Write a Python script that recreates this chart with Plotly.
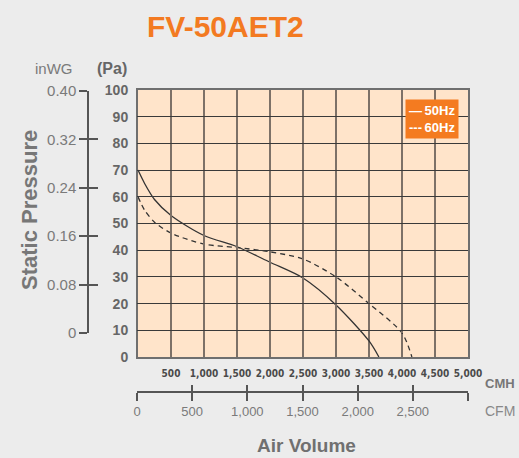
import plotly.graph_objects as go

W, H = 519, 458

# ---------------- data ----------------
series_names = ["50Hz", "60Hz"]
cmh_50 = [0, 100, 250, 500, 1000, 1500, 2000, 2500, 3000, 3500, 3650]
pa_50 = [70, 65, 59, 53, 45.5, 41.3, 35.5, 29.6, 19.5, 6, 0]
cmh_60 = [0, 100, 250, 500, 1000, 1500, 2000, 2500, 3000, 3500, 4000, 4150]
pa_60 = [60, 55, 50.5, 46.4, 42.3, 41, 39.4, 36.7, 30, 20, 9, 0]

cmh_ticks = [500, 1000, 1500, 2000, 2500, 3000, 3500, 4000, 4500, 5000]
cmh_labels = ["500", "1,000", "1,500", "2,000", "2,500", "3,000", "3,500", "4,000", "4,500", "5,000"]
pa_ticks = [0, 10, 20, 30, 40, 50, 60, 70, 80, 90, 100]
pa_labels = ["0", "10", "20", "30", "40", "50", "60", "70", "80", "90", "100"]
inwg_ticks = [0, 0.08, 0.16, 0.24, 0.32, 0.40]
inwg_labels = ["0", "0.08", "0.16", "0.24", "0.32", "0.40"]
cfm_ticks = [0, 500, 1000, 1500, 2000, 2500, 3000]
cfm_labels = ["0", "500", "1,000", "1,500", "2,000", "2,500", ""]

title_text = "FV-50AET2"

# ---------------- styles ----------------
ORANGE = "#F37A21"
CURVE = "#333333"
FONT = "Liberation Sans"
NARROW = "Liberation Sans Narrow, DejaVu Sans Condensed, Roboto Condensed, Roboto, Liberation Sans"


def px(x):
    return x / W


def py(y):
    return 1 - y / H


fig = go.Figure()

fig.add_trace(go.Scatter(x=cmh_50, y=pa_50, mode="lines", name=series_names[0],
                         line=dict(color=CURVE, width=1.3, shape="spline", smoothing=0.8),
                         showlegend=False, hoverinfo="skip"))
fig.add_trace(go.Scatter(x=cmh_60, y=pa_60, mode="lines", name=series_names[1],
                         line=dict(color=CURVE, width=1.3, dash="5px,4px", shape="spline", smoothing=0.8),
                         showlegend=False, hoverinfo="skip"))

# empty traces so the auxiliary axes get drawn
for xa, ya in [("x", "y2"), ("x", "y3"), ("x2", "y"), ("x3", "y")]:
    fig.add_trace(go.Scatter(x=[], y=[], xaxis=xa, yaxis=ya, showlegend=False, hoverinfo="skip"))

plot_x = [px(138), px(468)]
plot_y = [py(357), py(90)]

fig.update_layout(
    width=W, height=H,
    margin=dict(l=0, r=0, t=0, b=0, pad=0, autoexpand=False),
    paper_bgcolor="#ECECEC",
    plot_bgcolor="rgba(0,0,0,0)",
    showlegend=False,
    xaxis=dict(domain=plot_x, range=[0, 5000], tickvals=cmh_ticks, ticktext=cmh_labels,
               showgrid=True, gridcolor="#7d7168", gridwidth=1.6, zeroline=False,
               showline=True, linecolor="#6f6f6f", linewidth=2, mirror=True,
               ticks="", tickangle=0,
               tickfont=dict(family=NARROW, size=10, color="#4a4a4a", weight="bold"),
               ticklabelstandoff=6, fixedrange=True, automargin=False),
    yaxis=dict(domain=plot_y, range=[0, 100], tickvals=pa_ticks, ticktext=pa_labels,
               showgrid=True, gridcolor="#3a3a3a", gridwidth=1.4, zeroline=False,
               showline=True, linecolor="#6f6f6f", linewidth=2, mirror=True,
               ticks="", tickfont=dict(family=FONT, size=14, color="#666666", weight="bold"),
               ticklabelstandoff=5, fixedrange=True, automargin=False),
    yaxis2=dict(anchor="free", position=px(88), side="left", domain=[py(333), py(91)],
                range=[0, 0.4], tickvals=inwg_ticks, ticktext=inwg_labels,
                showgrid=False, zeroline=False, showline=True, linecolor="#555555", linewidth=1.5,
                ticks="outside", ticklen=8, tickwidth=1.5, tickcolor="#555555",
                tickfont=dict(family=FONT, size=15, color="#7a7a7a"), fixedrange=True, automargin=False),
    yaxis3=dict(anchor="free", position=px(88), side="left", domain=[py(333), py(91)],
                range=[0, 0.4], tickvals=inwg_ticks, showticklabels=False,
                showgrid=False, zeroline=False, showline=False,
                ticks="inside", ticklen=9, tickwidth=1.5, tickcolor="#555555", fixedrange=True,
                automargin=False),
    xaxis2=dict(anchor="free", position=py(392), side="bottom", domain=[px(137), px(468)],
                range=[0, 3000], tickvals=cfm_ticks, ticktext=cfm_labels,
                showgrid=False, zeroline=False, showline=True, linecolor="#555555", linewidth=1.5,
                ticks="outside", ticklen=8, tickwidth=1.5, tickcolor="#555555",
                tickfont=dict(family=FONT, size=13, color="#7a7a7a"), fixedrange=True, automargin=False),
    xaxis3=dict(anchor="free", position=py(392), side="bottom", domain=[px(137), px(468)],
                range=[0, 3000], tickvals=cfm_ticks, showticklabels=False,
                showgrid=False, zeroline=False, showline=False,
                ticks="inside", ticklen=7, tickwidth=1.5, tickcolor="#555555", fixedrange=True,
                automargin=False),
)

# peach plot background, under the grid
fig.add_shape(type="rect", xref="x domain", yref="y domain", x0=0, x1=1, y0=0, y1=1,
              fillcolor="#FFE4CA", line=dict(width=0), layer="below")

ann = [
    dict(text=f"<b>{title_text}</b>", x=px(225), y=py(27), font=dict(family=FONT, size=30, color=ORANGE)),
    dict(text="inWG", x=px(54), y=py(69), font=dict(family=FONT, size=15, color="#7a7a7a")),
    dict(text="<b>(Pa)</b>", x=px(112), y=py(69), font=dict(family=FONT, size=16, color="#666666")),
    dict(text="<b>Static Pressure</b>", x=px(29), y=py(210), textangle=-90,
         font=dict(family=FONT, size=22, color="#777777")),
    dict(text="<b>Air Volume</b>", x=px(307), y=py(445), font=dict(family=FONT, size=19, color="#707070")),
    dict(text="<b>CMH</b>", x=px(500), y=py(383), font=dict(family=FONT, size=13, color="#777777")),
    dict(text="CFM", x=px(500), y=py(411), font=dict(family=FONT, size=14, color="#888888")),
]
for a in ann:
    a.update(xref="paper", yref="paper", showarrow=False, xanchor="center", yanchor="middle")
    fig.add_annotation(**a)

legend_text = f"<b>—\u2009{series_names[0]}</b><br><b>---\u2009{series_names[1]}</b>"
fig.add_annotation(text=legend_text, xref="paper", yref="paper", x=px(405), y=py(99),
                   xanchor="left", yanchor="top", showarrow=False, align="left",
                   bgcolor="#F47B20", borderpad=3,
                   font=dict(family=FONT, size=13, color="#FFFFFF"))

fig.write_html("out.html", config={"displayModeBar": False},
               post_script="document.body.style.margin='0';")
